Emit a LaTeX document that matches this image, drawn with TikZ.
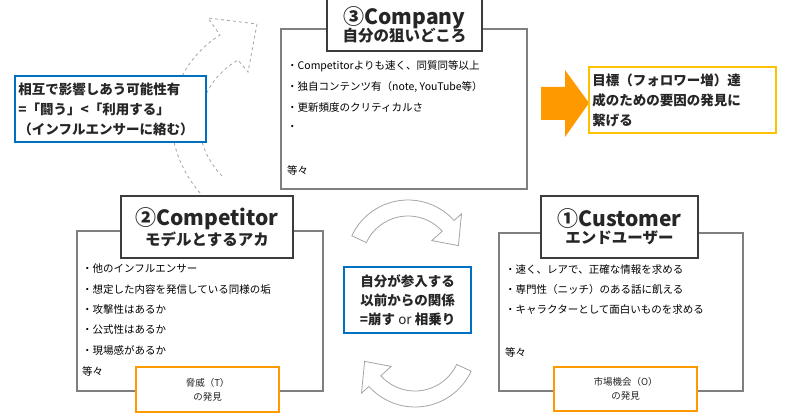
\documentclass[tikz,border=0pt]{standalone}
\usepackage{fontspec}
\setmainfont{Noto Sans CJK JP}
\usetikzlibrary{calc}
\definecolor{frame}{HTML}{7F7F7F}
\definecolor{ink}{HTML}{262626}
\definecolor{bluebox}{HTML}{0070C0}
\definecolor{orangebox}{HTML}{FF9900}
\definecolor{amber}{HTML}{FFC000}
\tikzset{
	panel/.style={draw=frame, line width=2pt, fill=white},
	title/.style={draw=ink!90, line width=2pt, fill=white, align=center, text=ink, font=\bfseries},
	item/.style={anchor=west, inner sep=0pt, text=black, font=\fontsize{10.5}{12}\selectfont},
	note/.style={line width=2.2pt, fill=white, align=center, font=\fontsize{9.5}{14}\selectfont},
	cyclearrow/.style={draw=frame!70, line width=0.8pt, fill=white}
}
\begin{document}
\begin{tikzpicture}[x=1pt, y=-1pt]
\useasboundingbox (0,0) rectangle (800,419);
% dashed curved arrow
\draw[draw=frame!70, dashed, line width=0.8pt]
  (200,193) .. controls (155,140) and (165,70) .. (220,35) -- (208,18) -- (257,24) -- (248,72) -- (238,60)
  .. controls (195,85) and (185,140) .. (224,178);
% company
\node[panel, minimum width=246, minimum height=160, anchor=north west] (cpanel) at (280,28) {};
\node[title, minimum width=155, minimum height=52, anchor=north west] (ctitle) at (326,-2)
  {\fontsize{21}{23}\selectfont ③Company\\[-2pt]\fontsize{15.5}{17}\selectfont 自分の狙いどころ};
\node[item] (c1) at (287,66) {・Competitorよりも速く、同質同等以上};
\node[item] (c2) at (287,87) {・独自コンテンツ有（note, YouTube等）};
\node[item] (c3) at (287,108) {・更新頻度のクリティカルさ};
\node[item] (c4) at (287,128) {・};
\node[item] (c5) at (287,170) {等々};
% blue note left
\node[note, draw=bluebox, align=left, text width=184, minimum height=66, anchor=north west, text=ink, font=\fontsize{13.5}{20}\selectfont\bfseries] (mutual) at (14,75)
  {相互で影響しあう可能性有\\=「闘う」<「利用する」\\（インフルエンサーに絡む）};
% competitor
\node[panel, minimum width=246, minimum height=160, anchor=north west] (tpanel) at (76,230) {};
\node[title, minimum width=172, minimum height=62, anchor=north west] (ttitle) at (120,195)
  {\fontsize{21}{23}\selectfont ②Competitor\\[1pt]\fontsize{15.5}{17}\selectfont モデルとするアカ};
\node[item] (t1) at (82,269) {・他のインフルエンサー};
\node[item] (t2) at (82,290) {・想定した内容を発信している同様の垢};
\node[item] (t3) at (82,310) {・攻撃性はあるか};
\node[item] (t4) at (82,330) {・公式性はあるか};
\node[item] (t5) at (82,351) {・現場感があるか};
\node[item] (t6) at (82,371) {等々};
\node[note, draw=orangebox, minimum width=143, minimum height=45, anchor=north west, text=ink] (threat) at (135,366)
  {脅威（T）\\の発見};
% customer
\node[panel, minimum width=244, minimum height=158, anchor=north west] (upanel) at (498,232) {};
\node[title, minimum width=157, minimum height=62, anchor=north west] (utitle) at (540,195)
  {\fontsize{21}{23}\selectfont ①Customer\\[1pt]\fontsize{15.5}{17}\selectfont エンドユーザー};
\node[item] (u1) at (505,270) {・速く、レアで、正確な情報を求める};
\node[item] (u2) at (505,290) {・専門性（ニッチ）のある話に飢える};
\node[item] (u3) at (505,310) {・キャラクターとして面白いものを求める};
\node[item] (u4) at (505,352) {等々};
\node[note, draw=orangebox, minimum width=143, minimum height=44, anchor=north west, text=ink] (chance) at (553,366)
  {市場機会（O）\\の発見};
% centre note
\node[note, draw=bluebox, minimum width=127, minimum height=66, anchor=north west, text=ink, font=\fontsize{13.5}{19}\selectfont\bfseries] (before) at (343,266)
  {自分が参入する\\以前からの関係\\=崩す {\normalfont or} 相乗り};
% cycle arrows
\coordinate (top) at (408,262);
\draw[cyclearrow] ($(top)+(205:62)$) arc[start angle=205, end angle=318, radius=62]
  -- ($(top)+(318:72)$) -- ($(top)+(342:53)$) -- ($(top)+(318:32)$) -- ($(top)+(318:46)$)
  arc[start angle=318, end angle=205, radius=46] -- cycle;
\coordinate (bot) at (415,345);
\draw[cyclearrow] ($(bot)+(25:62)$) arc[start angle=25, end angle=138, radius=62]
  -- ($(bot)+(138:72)$) -- ($(bot)+(162:53)$) -- ($(bot)+(138:32)$) -- ($(bot)+(138:46)$)
  arc[start angle=138, end angle=25, radius=46] -- cycle;
% goal
\fill[orangebox] (541,87) -- (565,87) -- (565,70) -- (589,103) -- (565,137) -- (565,120) -- (541,120) -- cycle;
\node[note, draw=amber, align=left, text width=180, minimum height=66, anchor=north west, text=ink, font=\fontsize{13.5}{20}\selectfont\bfseries] (goal) at (588,66)
  {目標（フォロワー増）達\\成のための要因の発見に\\繋げる};
\end{tikzpicture}
\end{document}
